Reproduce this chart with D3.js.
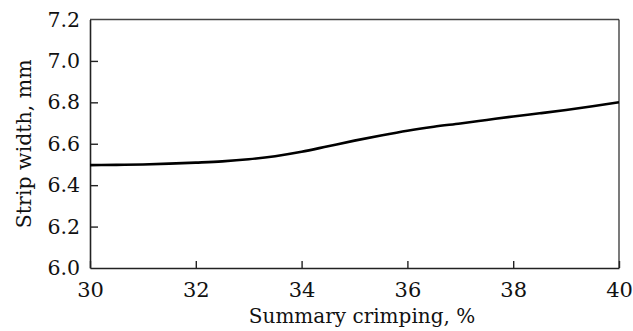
<!DOCTYPE html>
<html>
<head>
<meta charset="utf-8">
<script src="https://cdn.jsdelivr.net/npm/d3@7"></script>
<style>
  html, body { margin: 0; padding: 0; background: #fff; }
  svg { display: block; }
  text { font-family: "DejaVu Serif", serif; fill: #111; }
</style>
</head>
<body>
<svg id="chart" width="633" height="331"></svg>
<script>
// Strip width as a function of summary crimping
const crimping = [30, 30.5, 31, 31.5, 32, 32.5, 33, 33.5, 34, 34.5, 35, 35.5, 36, 36.5, 37, 37.5, 38, 38.5, 39, 39.5, 40];
const stripWidth = [6.497, 6.498, 6.500, 6.504, 6.509, 6.515, 6.525, 6.540, 6.561, 6.588, 6.615, 6.640, 6.663, 6.682, 6.698, 6.715, 6.732, 6.747, 6.763, 6.781, 6.800];

const xTicks = [30, 32, 34, 36, 38, 40];
const yTicks = [6.0, 6.2, 6.4, 6.6, 6.8, 7.0, 7.2];

const xTitle = "Summary crimping, %";
const yTitle = "Strip width, mm";

const margin = { left: 90, right: 14, top: 19.5, bottom: 63 };
const W = 633, H = 331;

const svg = d3.select("#chart");

const x = d3.scaleLinear().domain([30, 40]).range([margin.left, W - margin.right]);
const y = d3.scaleLinear().domain([6.0, 7.2]).range([H - margin.bottom, margin.top]);

// frame: top and right edges
svg.append("line")
  .attr("x1", x(30)).attr("x2", x(40))
  .attr("y1", y(7.2)).attr("y2", y(7.2))
  .attr("stroke", "#444").attr("stroke-width", 1.6);
svg.append("line")
  .attr("x1", x(40)).attr("x2", x(40))
  .attr("y1", y(7.2)).attr("y2", y(6.0))
  .attr("stroke", "#222").attr("stroke-width", 1.2);

// bottom axis with inward ticks
const xAxis = svg.append("g")
  .attr("transform", `translate(0,${y(6.0)})`)
  .call(d3.axisBottom(x).tickValues(xTicks).tickFormat(d3.format("d"))
        .tickSizeInner(-7).tickSizeOuter(0).tickPadding(14));
xAxis.select(".domain").attr("stroke", "#222").attr("stroke-width", 1.6);
xAxis.selectAll(".tick line").attr("stroke", "#222").attr("stroke-width", 1.4);
xAxis.selectAll(".tick text")
  .attr("font-family", "DejaVu Serif").attr("font-size", 21).attr("fill", "#111");

// left axis with inward ticks
const yAxis = svg.append("g")
  .attr("transform", `translate(${x(30)},0)`)
  .call(d3.axisLeft(y).tickValues(yTicks).tickFormat(d3.format(".1f"))
        .tickSizeInner(-8).tickSizeOuter(0).tickPadding(10));
yAxis.select(".domain").attr("stroke", "#222").attr("stroke-width", 1.6);
yAxis.selectAll(".tick line").attr("stroke", "#222").attr("stroke-width", 1.4)
  .filter(d => d === 7.2 || d === 6.0).remove();
yAxis.selectAll(".tick text")
  .attr("font-family", "DejaVu Serif").attr("font-size", 20.5).attr("fill", "#111");

// data line
const pts = crimping.map((c, i) => [c, stripWidth[i]]);
svg.append("path")
  .datum(pts)
  .attr("fill", "none")
  .attr("stroke", "#000")
  .attr("stroke-width", 2.6)
  .attr("stroke-linejoin", "round")
  .attr("d", d3.line().x(d => x(d[0])).y(d => y(d[1])).curve(d3.curveMonotoneX));

// axis titles
svg.append("text")
  .attr("x", 362).attr("y", 323)
  .attr("text-anchor", "middle")
  .attr("font-size", 20)
  .text(xTitle);

svg.append("text")
  .attr("transform", `translate(31,${(y(7.2) + y(6.0)) / 2}) rotate(-90)`)
  .attr("text-anchor", "middle")
  .attr("font-size", 20.5)
  .text(yTitle);
</script>
</body>
</html>
